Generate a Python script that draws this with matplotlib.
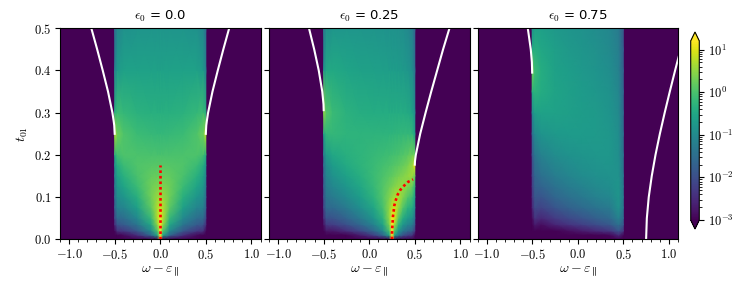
import numpy as np
import matplotlib
matplotlib.use("Agg")
import matplotlib.pyplot as plt
from matplotlib.colors import Normalize, LogNorm
from matplotlib.cm import ScalarMappable
from matplotlib.ticker import MultipleLocator, FuncFormatter, NullFormatter

plt.rcParams['mathtext.fontset'] = 'cm'

# ---- values (log10 of the intensity) ----
eps0_labels = ['0.0', '0.25', '0.75']

# panel 1 : eps0 = 0.0
w_cols_0 = [-0.5, -0.47, -0.4, -0.25, -0.1, -0.03, 0.0, 0.03, 0.1, 0.25, 0.4, 0.47, 0.5]
t_rows_0 = [0.0, 0.01, 0.02, 0.035, 0.05, 0.075, 0.1, 0.125, 0.15, 0.175, 0.2, 0.25, 0.3, 0.4, 0.5]
logA_0 = [
    [-3.5, -3.5, -3.5, -3.5, -3.5, -3.5, 1.3, -3.5, -3.5, -3.5, -3.5, -3.5, -3.5],
    [-3.6, -3.0, -2.9, -2.45, -1.6, -0.55, 2.6, -0.55, -1.6, -2.45, -2.9, -3.0, -3.6],
    [-2.95, -2.4, -2.3, -1.85, -1.0, 0.05, 2.0, 0.05, -1.0, -1.85, -2.3, -2.4, -2.95],
    [-2.45, -1.9, -1.8, -1.35, -0.5, 0.51, 1.51, 0.51, -0.5, -1.35, -1.8, -1.9, -2.45],
    [-2.1, -1.57, -1.49, -1.02, -0.19, 0.71, 1.2, 0.71, -0.19, -1.02, -1.49, -1.57, -2.1],
    [-1.7, -1.17, -1.09, -0.63, 0.14, 0.71, 0.85, 0.71, 0.14, -0.63, -1.09, -1.17, -1.7],
    [-1.5, -0.96, -0.8, -0.35, 0.28, 0.56, 0.6, 0.56, 0.28, -0.35, -0.8, -0.96, -1.5],
    [-1.3, -0.77, -0.55, -0.13, 0.28, 0.39, 0.41, 0.39, 0.28, -0.13, -0.55, -0.77, -1.3],
    [-1.1, -0.58, -0.33, 0.0, 0.2, 0.24, 0.25, 0.24, 0.2, 0.0, -0.33, -0.58, -1.1],
    [-0.88, -0.39, -0.13, 0.04, 0.1, 0.11, 0.11, 0.11, 0.1, 0.04, -0.13, -0.39, -0.88],
    [-0.47, -0.07, 0.03, 0.02, 0.0, 0.0, 0.0, 0.0, 0.0, 0.02, 0.03, -0.07, -0.47],
    [0.76, 0.27, 0.03, -0.13, -0.19, -0.2, -0.2, -0.2, -0.19, -0.13, 0.03, 0.27, 0.76],
    [-0.33, -0.12, -0.2, -0.31, -0.35, -0.35, -0.35, -0.35, -0.35, -0.31, -0.2, -0.12, -0.33],
    [-1.14, -0.72, -0.6, -0.59, -0.6, -0.6, -0.6, -0.6, -0.6, -0.59, -0.6, -0.72, -1.14],
    [-1.51, -1.05, -0.88, -0.81, -0.8, -0.8, -0.8, -0.8, -0.8, -0.81, -0.88, -1.05, -1.51],
]

# panel 2 : eps0 = 0.25
w_cols_1 = [-0.5, -0.47, -0.4, -0.25, -0.1, 0.05, 0.15, 0.22, 0.25, 0.28, 0.32, 0.37, 0.42, 0.47, 0.5]
t_rows_1 = [0.0, 0.01, 0.02, 0.035, 0.05, 0.075, 0.1, 0.125, 0.15, 0.175, 0.2, 0.25, 0.3, 0.4, 0.5]
logA_1 = [
    [-3.5, -3.5, -3.5, -3.5, -3.5, -3.5, -3.5, -3.5, 1.3, -3.5, -3.5, -3.5, -3.5, -3.5, -3.5],
    [-3.9, -3.37, -3.34, -3.05, -2.69, -2.2, -1.62, -0.6, 2.5, -0.62, -1.39, -1.92, -2.22, -2.34, -2.94],
    [-3.3, -2.77, -2.74, -2.45, -2.09, -1.6, -1.02, -0.03, 1.94, 0.02, -0.77, -1.3, -1.6, -1.73, -2.32],
    [-2.8, -2.28, -2.24, -1.96, -1.6, -1.11, -0.55, 0.35, 1.45, 0.59, -0.23, -0.78, -1.09, -1.22, -1.82],
    [-2.48, -1.96, -1.92, -1.64, -1.28, -0.81, -0.28, 0.5, 1.14, 0.92, 0.15, -0.42, -0.73, -0.87, -1.47],
    [-2.1, -1.57, -1.54, -1.26, -0.92, -0.49, -0.03, 0.5, 0.79, 0.93, 0.58, 0.06, -0.3, -0.41, -1.02],
    [-1.9, -1.38, -1.27, -0.99, -0.67, -0.29, 0.06, 0.39, 0.54, 0.66, 0.68, 0.41, 0.08, -0.1, -0.7],
    [-1.75, -1.23, -1.06, -0.77, -0.49, -0.18, 0.06, 0.26, 0.34, 0.43, 0.52, 0.54, 0.41, 0.24, -0.35],
    [-1.61, -1.1, -0.87, -0.59, -0.36, -0.14, 0.01, 0.13, 0.18, 0.24, 0.32, 0.41, 0.5, 0.59, 0.2],
    [-1.47, -0.97, -0.69, -0.44, -0.29, -0.15, -0.06, 0.02, 0.05, 0.09, 0.14, 0.23, 0.35, 0.57, 1.07],
    [-1.22, -0.73, -0.5, -0.34, -0.26, -0.18, -0.13, -0.09, -0.06, -0.04, 0.0, 0.06, 0.14, 0.28, 0.25],
    [-0.58, -0.23, -0.2, -0.26, -0.29, -0.29, -0.28, -0.27, -0.26, -0.25, -0.24, -0.21, -0.2, -0.23, -0.58],
    [0.54, 0.1, -0.15, -0.31, -0.38, -0.41, -0.42, -0.42, -0.42, -0.42, -0.42, -0.42, -0.44, -0.54, -0.95],
    [-0.82, -0.48, -0.47, -0.55, -0.6, -0.63, -0.65, -0.66, -0.67, -0.68, -0.69, -0.72, -0.77, -0.92, -1.38],
    [-1.36, -0.92, -0.79, -0.77, -0.79, -0.81, -0.83, -0.85, -0.86, -0.87, -0.89, -0.93, -1.0, -1.17, -1.64],
]

# panel 3 : eps0 = 0.75
w_cols_2 = [-0.5, -0.47, -0.4, -0.25, -0.1, 0.05, 0.2, 0.35, 0.45, 0.5]
t_rows_2 = [0.0, 0.01, 0.02, 0.035, 0.05, 0.075, 0.1, 0.125, 0.15, 0.2, 0.25, 0.3, 0.35, 0.4, 0.45, 0.5]
logA_2 = [
    [-3.5, -3.5, -3.5, -3.5, -3.5, -3.5, -3.5, -3.5, -3.5, -3.5],
    [-4.3, -3.8, -3.84, -3.66, -3.46, -3.29, -3.11, -2.94, -2.51, -2.96],
    [-3.7, -3.2, -3.34, -3.06, -2.86, -2.69, -2.51, -2.34, -1.91, -2.36],
    [-3.21, -2.71, -2.85, -2.57, -2.37, -2.2, -2.02, -1.85, -1.44, -1.89],
    [-2.89, -2.39, -2.53, -2.27, -2.07, -1.91, -1.73, -1.57, -1.16, -1.6],
    [-2.56, -2.05, -2.16, -1.89, -1.7, -1.54, -1.39, -1.26, -0.87, -1.35],
    [-2.39, -1.88, -1.89, -1.62, -1.45, -1.3, -1.16, -1.06, -0.8, -1.3],
    [-2.26, -1.75, -1.66, -1.41, -1.25, -1.12, -1.01, -0.94, -0.8, -1.31],
    [-2.16, -1.65, -1.47, -1.24, -1.09, -0.98, -0.9, -0.86, -0.84, -1.37],
    [-1.89, -1.39, -1.14, -0.95, -0.86, -0.8, -0.77, -0.78, -0.92, -1.47],
    [-1.51, -1.04, -0.83, -0.74, -0.71, -0.71, -0.72, -0.78, -0.94, -1.51],
    [-1.06, -0.66, -0.57, -0.6, -0.65, -0.69, -0.73, -0.82, -1.0, -1.58],
    [-0.4, -0.28, -0.41, -0.56, -0.64, -0.71, -0.77, -0.87, -1.06, -1.65],
    [0.34, -0.14, -0.39, -0.59, -0.68, -0.76, -0.83, -0.94, -1.13, -1.72],
    [-0.46, -0.35, -0.49, -0.65, -0.74, -0.81, -0.89, -1.0, -1.2, -1.79],
    [-0.93, -0.62, -0.63, -0.74, -0.81, -0.88, -0.95, -1.06, -1.27, -1.86],
]

# bound states outside the band (white) : t01 values and omega values
white_t = [
    [[0.25, 0.27, 0.28, 0.3, 0.35, 0.4, 0.45, 0.5], [0.25, 0.27, 0.28, 0.3, 0.35, 0.4, 0.45, 0.5]],
    [[0.306, 0.32, 0.35, 0.4, 0.45, 0.5], [0.177, 0.185, 0.2, 0.25, 0.3, 0.35, 0.4, 0.45, 0.5]],
    [[0.395, 0.42, 0.45, 0.5], [0.0, 0.05, 0.1, 0.15, 0.2, 0.25, 0.3, 0.35, 0.4, 0.43, 0.45]],
]
white_w = [
    [[-0.5, -0.505, -0.511, -0.525, -0.573, -0.631, -0.692, -0.756],
     [0.5, 0.505, 0.511, 0.525, 0.573, 0.631, 0.692, 0.756]],
    [[-0.5, -0.502, -0.5155, -0.554, -0.604, -0.661],
     [0.5, 0.5018, 0.511, 0.559, 0.618, 0.68, 0.745, 0.81, 0.88]],
    [[-0.5, -0.5035, -0.5155, -0.548],
     [0.75, 0.758, 0.779, 0.812, 0.853, 0.901, 0.954, 1.01, 1.068, 1.104, 1.13]],
]

# resonance inside the band (red dots)
red_w = [
    [0.0, 0.0],
    [0.25, 0.25, 0.253, 0.257, 0.26, 0.268, 0.275, 0.29, 0.312, 0.341, 0.382, 0.426, 0.48],
    None,
]
red_t = [
    [0.0, 0.175],
    [0.0, 0.015, 0.028, 0.042, 0.054, 0.067, 0.08, 0.092, 0.106, 0.117, 0.127, 0.136, 0.142],
    None,
]

w_cols = [w_cols_0, w_cols_1, w_cols_2]
t_rows = [t_rows_0, t_rows_1, t_rows_2]
logA = [logA_0, logA_1, logA_2]

# ---- figure ----
cmap = plt.get_cmap('viridis')
lo, hi = -3.0, np.log10(16.0)
norm = Normalize(vmin=lo, vmax=hi)

fig = plt.figure(figsize=(7.53, 2.82), dpi=100)
W, H = 753.0, 282.0
lefts = [60.0, 269.0, 477.5]
ax_w, ax_bot, ax_h = 200.5, 282.0 - 239.3, 211.0

math_fmt = FuncFormatter(lambda v, pos: r'$%.1f$' % v)

for i in range(3):
    ax = fig.add_axes([lefts[i] / W, ax_bot / H, ax_w / W, ax_h / H])
    ax.set_facecolor(cmap(0.0))
    ax.pcolormesh(w_cols[i], t_rows[i], np.array(logA[i]), shading='gouraud',
                  cmap=cmap, norm=norm)
    for tt, ww in zip(white_t[i], white_w[i]):
        ax.plot(ww, tt, color='white', lw=1.5)
    if red_w[i] is not None:
        ax.plot(red_w[i], red_t[i], color='red', lw=1.9, ls=(0, (1, 1.1)))

    ax.set_xlim(-1.1, 1.1)
    ax.set_ylim(0, 0.5)
    ax.xaxis.set_major_locator(MultipleLocator(0.5))
    ax.xaxis.set_minor_locator(MultipleLocator(0.1))
    ax.yaxis.set_major_locator(MultipleLocator(0.1))
    ax.xaxis.set_major_formatter(math_fmt)
    ax.yaxis.set_major_formatter(math_fmt)
    ax.tick_params(labelsize=9, pad=2.5)
    ax.set_title(r'$\epsilon_0$ = ' + eps0_labels[i], fontsize=9.5)
    ax.set_xlabel(r'$\omega - \varepsilon_{\parallel}$', fontsize=10, labelpad=2)
    if i == 0:
        ax.set_ylabel(r'$t_{01}$', fontsize=10, labelpad=3)
    else:
        ax.tick_params(labelleft=False)

# colorbar
cax = fig.add_axes([690.7 / W, 53.0 / H, 8.6 / W, 197.0 / H])
sm = ScalarMappable(norm=LogNorm(vmin=1e-3, vmax=16.0), cmap=cmap)
cb = fig.colorbar(sm, cax=cax, extend='both')
cb.set_ticks([1e-3, 1e-2, 1e-1, 1e0, 1e1])
cb.ax.yaxis.set_major_formatter(FuncFormatter(lambda v, pos: r'$10^{%d}$' % round(np.log10(v))))
cb.ax.yaxis.set_minor_formatter(NullFormatter())
cb.ax.tick_params(labelsize=9, pad=2.5)

fig.savefig('out.png', dpi=100)
